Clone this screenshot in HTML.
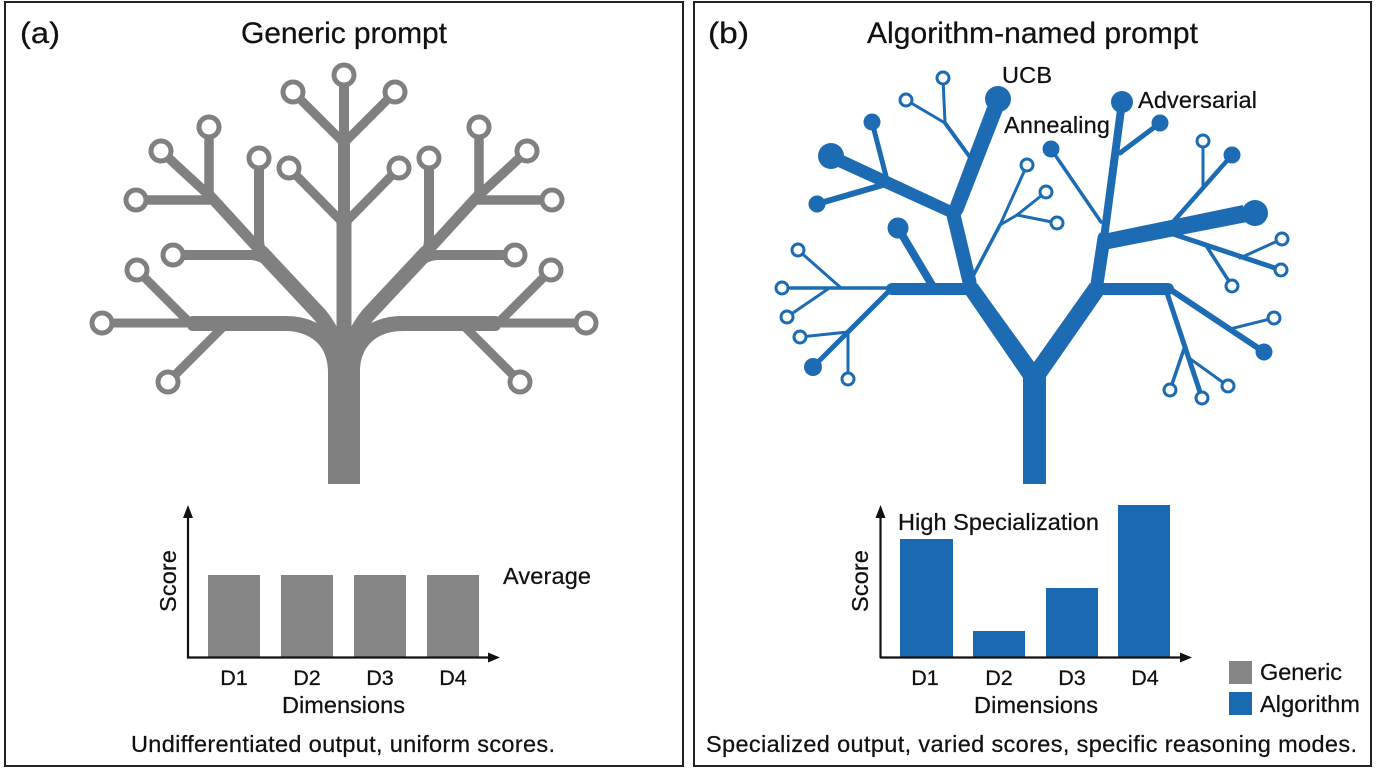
<!DOCTYPE html>
<html><head><meta charset="utf-8"><style>
html,body{margin:0;padding:0;background:#fff;width:1376px;height:768px;overflow:hidden}
svg{display:block}
text{font-family:"Liberation Sans",sans-serif;fill:#111;font-size:23.5px;stroke:#111;stroke-width:.25px}
.d{font-size:21.5px;text-anchor:middle}
.t{font-size:30px}
.g line,.g path.s{stroke:#808080;fill:none;stroke-linecap:round}
.g circle{stroke:#808080;stroke-width:5;fill:#fff}
.b line,.b polyline{stroke:#1d6cb3;fill:none;stroke-linecap:round;stroke-linejoin:round}
.b circle.f{fill:#1d6cb3}
.b circle.h{fill:#fff;stroke:#1d6cb3;stroke-width:3}
</style></head><body>
<svg width="1376" height="768" viewBox="0 0 1376 768" xmlns="http://www.w3.org/2000/svg">
<rect x="5" y="2" width="678" height="764" fill="#fff" stroke="#222" stroke-width="2"/>
<rect x="694" y="2" width="677" height="764" fill="#fff" stroke="#222" stroke-width="2"/>
<text class="t" x="20" y="43" textLength="40" lengthAdjust="spacingAndGlyphs">(a)</text>
<text class="t" x="241" y="43" textLength="206">Generic prompt</text>
<text class="t" x="708" y="43" textLength="41" lengthAdjust="spacingAndGlyphs">(b)</text>
<text class="t" x="867" y="43" textLength="331">Algorithm-named prompt</text>

<g class="g">
<g id="half">
<path fill="#808080" d="M345 484H328V372C328 345 310 331 285 331H193Q187 331 187 323.500Q187 316 193 316H285C305 316 320 322 332 335L345 345Z"/>
<path class="s" stroke-width="15" d="M262 253L320 315Q332 330 336 345"/>
<line x1="266" y1="257" x2="211" y2="197" stroke-width="11"/>
<line x1="213" y1="199" x2="161" y2="151" stroke-width="9.500"/>
<line x1="209" y1="127" x2="209" y2="197" stroke-width="9.500"/>
<line x1="136" y1="200" x2="210" y2="200" stroke-width="9.500"/>
<path class="s" stroke-width="10" d="M259 158V240Q259 250 266 258"/>
<path class="s" stroke-width="10" d="M173 255H250Q258 255 266 260"/>
<line x1="137" y1="270" x2="190" y2="323" stroke-width="9"/>
<line x1="168" y1="382" x2="224" y2="326" stroke-width="9"/>
<line x1="102" y1="323" x2="190" y2="323" stroke-width="9"/>
<line x1="293" y1="92" x2="344" y2="143" stroke-width="9"/>
<line x1="289" y1="168" x2="342" y2="222" stroke-width="9"/>
<line x1="344" y1="75" x2="344" y2="140" stroke-width="10"/>
<line x1="344" y1="138" x2="344" y2="224" stroke-width="12"/>
<line x1="344" y1="220" x2="344" y2="350" stroke-width="15"/>
<circle cx="102" cy="323" r="10"/><circle cx="137" cy="270" r="10"/><circle cx="168" cy="382" r="10"/>
<circle cx="173" cy="255" r="10"/><circle cx="136" cy="200" r="10"/><circle cx="161" cy="151" r="10"/>
<circle cx="209" cy="127" r="10"/><circle cx="259" cy="158" r="10"/><circle cx="289" cy="168" r="10"/>
<circle cx="293" cy="92" r="10"/>
</g>
<use href="#half" transform="translate(688,0) scale(-1,1)"/>
<circle cx="344" cy="75" r="10"/>
</g>

<g class="b">
<polygon fill="#1d6cb3" points="966,295 1023,378 1023,484 1046,484 1046,377 1103,295 1090,283 1034,362 977,283"/>
<line x1="892" y1="289" x2="972" y2="289" stroke-width="12"/>
<line x1="969.500" y1="282" x2="953.500" y2="215" stroke-width="14"/>
<polygon fill="#1d6cb3" points="950,205 987,107 1003,110 963,212 954,225"/>
<polygon fill="#1d6cb3" points="843,155 950,205 955,215 948,217 838,167"/>
<line x1="872" y1="122" x2="887" y2="180" stroke-width="5"/>
<line x1="817" y1="204" x2="886" y2="184" stroke-width="6"/>
<line x1="898" y1="228" x2="932" y2="285" stroke-width="8"/>
<line x1="972" y1="160" x2="945" y2="123" stroke-width="4"/>
<line x1="945" y1="123" x2="906" y2="100" stroke-width="3"/>
<line x1="945" y1="123" x2="943" y2="78" stroke-width="3"/>
<line x1="972" y1="278" x2="1000" y2="225" stroke-width="3.500"/>
<line x1="1000" y1="225" x2="1027" y2="165" stroke-width="3"/>
<line x1="1000" y1="225" x2="1017" y2="215" stroke-width="3"/>
<line x1="1017" y1="215" x2="1046" y2="192" stroke-width="3"/>
<line x1="1017" y1="215" x2="1057" y2="223" stroke-width="3"/>
<line x1="888" y1="288" x2="782" y2="288" stroke-width="3.500"/>
<line x1="840" y1="287" x2="798" y2="250" stroke-width="3"/>
<line x1="828" y1="289" x2="787" y2="317" stroke-width="3"/>
<line x1="888" y1="292" x2="813" y2="367" stroke-width="5"/>
<line x1="848" y1="332" x2="800" y2="337" stroke-width="3"/>
<line x1="848" y1="332" x2="848" y2="379" stroke-width="3"/>
<line x1="1097" y1="284" x2="1104" y2="238" stroke-width="13"/>
<line x1="1104" y1="238" x2="1122" y2="102" stroke-width="8"/>
<line x1="1120" y1="153" x2="1160" y2="123" stroke-width="5"/>
<line x1="1101" y1="222" x2="1051" y2="149" stroke-width="3.500"/>
<polygon fill="#1d6cb3" points="1103,234 1243,205 1247,222 1104,250"/>
<line x1="1173" y1="222" x2="1232" y2="155" stroke-width="4.500"/>
<line x1="1203" y1="187" x2="1203" y2="141" stroke-width="3"/>
<line x1="1170" y1="233" x2="1281" y2="270" stroke-width="5"/>
<line x1="1207" y1="247" x2="1232" y2="286" stroke-width="3.500"/>
<line x1="1240" y1="258" x2="1282" y2="239" stroke-width="3"/>
<line x1="1100" y1="289" x2="1168" y2="289" stroke-width="12"/>
<line x1="1168" y1="288" x2="1264" y2="352" stroke-width="6"/>
<line x1="1230" y1="329" x2="1274" y2="318" stroke-width="3"/>
<line x1="1167" y1="293" x2="1202" y2="398" stroke-width="5"/>
<line x1="1185" y1="346" x2="1170" y2="390" stroke-width="3.500"/>
<line x1="1189" y1="358" x2="1228" y2="386" stroke-width="3"/>
<circle class="f" cx="998" cy="99" r="13"/><circle class="f" cx="872" cy="122" r="8.500"/><circle class="f" cx="831" cy="156" r="13"/>
<circle class="f" cx="817" cy="204" r="8.500"/><circle class="f" cx="898" cy="228" r="10.500"/><circle class="f" cx="813" cy="367" r="9"/>
<circle class="f" cx="1051" cy="149" r="8.500"/><circle class="f" cx="1122" cy="102" r="11"/><circle class="f" cx="1160" cy="123" r="8.500"/>
<circle class="f" cx="1232" cy="155" r="8.500"/><circle class="f" cx="1255" cy="213" r="13"/><circle class="f" cx="1264" cy="352" r="8.500"/>
<circle class="h" cx="943" cy="78" r="6"/><circle class="h" cx="906" cy="100" r="6"/><circle class="h" cx="1027" cy="165" r="6"/>
<circle class="h" cx="1046" cy="192" r="6"/><circle class="h" cx="1057" cy="223" r="6"/><circle class="h" cx="798" cy="250" r="6"/>
<circle class="h" cx="782" cy="288" r="6"/><circle class="h" cx="787" cy="317" r="6"/><circle class="h" cx="800" cy="337" r="6"/>
<circle class="h" cx="848" cy="379" r="6"/><circle class="h" cx="1203" cy="141" r="6"/><circle class="h" cx="1282" cy="239" r="6"/>
<circle class="h" cx="1281" cy="270" r="6"/><circle class="h" cx="1232" cy="286" r="6"/><circle class="h" cx="1274" cy="318" r="6"/>
<circle class="h" cx="1228" cy="386" r="6"/><circle class="h" cx="1202" cy="398" r="6"/><circle class="h" cx="1170" cy="390" r="6"/>
</g>
<text x="1002" y="83" textLength="50">UCB</text>
<text x="1004" y="133" textLength="106">Annealing</text>
<text x="1138" y="108" textLength="119">Adversarial</text>

<g fill="#858585">
<rect x="208" y="575" width="52" height="82"/><rect x="281" y="575" width="52" height="82"/>
<rect x="354" y="575" width="52" height="82"/><rect x="427" y="575" width="52" height="82"/>
</g>
<path d="M188 658V512M187 657.500H492" stroke="#111" stroke-width="2.200" fill="none"/>
<path d="M188 505L193 518H183ZM500 657.500L488 652.500V662.500Z" fill="#111"/>
<text class="d" x="234" y="685">D1</text><text class="d" x="307" y="685">D2</text>
<text class="d" x="380" y="685">D3</text><text class="d" x="453" y="685">D4</text>
<text x="282" y="713" textLength="123">Dimensions</text>
<text x="503" y="584" textLength="88">Average</text>
<text transform="translate(176,612) rotate(-90)" textLength="62">Score</text>
<text x="131" y="752" textLength="424">Undifferentiated output, uniform scores.</text>

<g fill="#1b69b0">
<rect x="900" y="539" width="53" height="118"/><rect x="973" y="631" width="52" height="26"/>
<rect x="1046" y="588" width="52" height="69"/><rect x="1118" y="505" width="52" height="152"/>
</g>
<path d="M880.500 658V512M880 657.500H1184" stroke="#111" stroke-width="2.200" fill="none"/>
<path d="M880.500 505L885.500 518H875.500ZM1192 657.500L1180 652.500V662.500Z" fill="#111"/>
<text class="d" x="925" y="685">D1</text><text class="d" x="999" y="685">D2</text>
<text class="d" x="1072" y="685">D3</text><text class="d" x="1145" y="685">D4</text>
<text x="974" y="713" textLength="124">Dimensions</text>
<text x="898" y="530" textLength="201">High Specialization</text>
<text transform="translate(868,612) rotate(-90)" textLength="62">Score</text>
<text x="706" y="752" textLength="651">Specialized output, varied scores, specific reasoning modes.</text>

<rect x="1229" y="661" width="23" height="23" fill="#858585"/>
<rect x="1229" y="692" width="23" height="23" fill="#1b69b0"/>
<text x="1260" y="680" textLength="82">Generic</text>
<text x="1260" y="712" textLength="100">Algorithm</text>
</svg>
</body></html>
